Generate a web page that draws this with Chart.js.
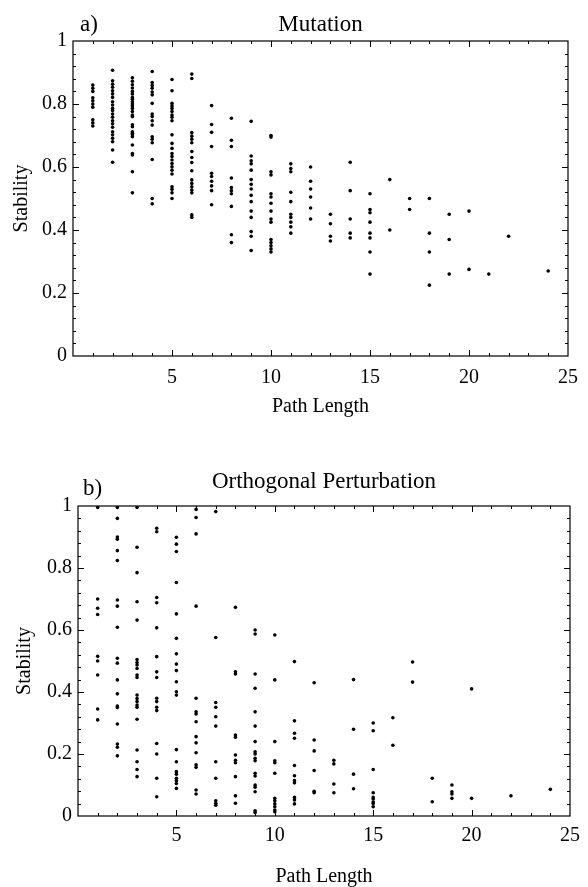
<!DOCTYPE html>
<html>
<head>
<meta charset="utf-8">
<script src="https://cdn.jsdelivr.net/npm/chart.js@4.4.1/dist/chart.umd.min.js"></script>
<style>
  html, body { margin: 0; padding: 0; background: #fff; }
  #wrap { position: relative; width: 588px; height: 887px; }
  canvas { position: absolute; left: 0; }
  #chart-a { top: 0; }
  #chart-b { top: 440px; }
</style>
</head>
<body>
<div id="wrap">
  <canvas id="chart-a" width="588" height="440"></canvas>
  <canvas id="chart-b" width="588" height="447"></canvas>
</div>
<script>
// a) Mutation: stability values per path length
const pathLengthsA = [1, 2, 3, 4, 5, 6, 7, 8, 9, 10, 11, 12, 13, 14, 15, 16, 17, 18, 19, 20, 21, 22, 24];
const stabilityA = [
  [0.86, 0.85, 0.84, 0.82, 0.81, 0.80, 0.79, 0.75, 0.74, 0.73],
  [0.907, 0.874, 0.863, 0.853, 0.842, 0.832, 0.821, 0.807, 0.797, 0.786, 0.779, 0.768, 0.758, 0.747, 0.737, 0.726, 0.712, 0.702, 0.691, 0.680, 0.654, 0.615],
  [0.883, 0.872, 0.861, 0.851, 0.840, 0.832, 0.821, 0.815, 0.807, 0.80, 0.794, 0.786, 0.776, 0.765, 0.760, 0.734, 0.728, 0.712, 0.707, 0.702, 0.696, 0.670, 0.643, 0.638, 0.585, 0.518],
  [0.903, 0.868, 0.859, 0.850, 0.838, 0.829, 0.802, 0.768, 0.760, 0.747, 0.733, 0.696, 0.688, 0.677, 0.624, 0.50, 0.483],
  [0.878, 0.842, 0.802, 0.794, 0.786, 0.776, 0.765, 0.758, 0.747, 0.702, 0.675, 0.659, 0.643, 0.633, 0.622, 0.611, 0.601, 0.590, 0.578, 0.537, 0.529, 0.518, 0.50],
  [0.895, 0.881, 0.709, 0.698, 0.688, 0.677, 0.649, 0.630, 0.614, 0.588, 0.559, 0.548, 0.537, 0.527, 0.518, 0.448, 0.44],
  [0.795, 0.735, 0.71, 0.665, 0.58, 0.57, 0.555, 0.54, 0.525, 0.48],
  [0.755, 0.685, 0.665, 0.565, 0.535, 0.525, 0.515, 0.475, 0.385, 0.36],
  [0.745, 0.635, 0.62, 0.61, 0.59, 0.56, 0.545, 0.53, 0.51, 0.49, 0.46, 0.44, 0.395, 0.38, 0.335],
  [0.70, 0.695, 0.585, 0.575, 0.515, 0.505, 0.485, 0.46, 0.435, 0.425, 0.37, 0.36, 0.35, 0.34, 0.33],
  [0.61, 0.595, 0.585, 0.52, 0.49, 0.45, 0.44, 0.425, 0.41, 0.39],
  [0.60, 0.555, 0.53, 0.505, 0.47, 0.435],
  [0.45, 0.42, 0.38, 0.365],
  [0.615, 0.525, 0.435, 0.39, 0.375],
  [0.515, 0.465, 0.455, 0.425, 0.39, 0.375, 0.33, 0.26],
  [0.56, 0.40],
  [0.50, 0.465],
  [0.50, 0.39, 0.33, 0.225],
  [0.45, 0.37, 0.26],
  [0.46, 0.275],
  [0.26],
  [0.38],
  [0.27]
];

// b) Orthogonal Perturbation
const pathLengthsB = [1, 2, 3, 4, 5, 6, 7, 8, 9, 10, 11, 12, 13, 14, 15, 16, 17, 18, 19, 20, 22, 24];
const stabilityB = [
  [0.995, 0.70, 0.67, 0.65, 0.515, 0.50, 0.455, 0.345, 0.31],
  [0.995, 0.96, 0.90, 0.893, 0.856, 0.824, 0.697, 0.677, 0.609, 0.509, 0.493, 0.439, 0.394, 0.355, 0.35, 0.297, 0.232, 0.222, 0.194],
  [0.995, 0.867, 0.785, 0.691, 0.632, 0.505, 0.495, 0.487, 0.476, 0.455, 0.447, 0.390, 0.379, 0.369, 0.358, 0.351, 0.312, 0.213, 0.175, 0.15, 0.127],
  [0.928, 0.917, 0.705, 0.688, 0.607, 0.514, 0.465, 0.447, 0.380, 0.369, 0.351, 0.340, 0.234, 0.2, 0.122, 0.062],
  [0.899, 0.877, 0.853, 0.753, 0.652, 0.573, 0.523, 0.490, 0.469, 0.433, 0.401, 0.390, 0.214, 0.175, 0.143, 0.135, 0.122, 0.114, 0.105, 0.089],
  [0.989, 0.963, 0.910, 0.677, 0.380, 0.336, 0.329, 0.304, 0.256, 0.236, 0.204, 0.165, 0.157, 0.084, 0.071],
  [0.982, 0.576, 0.366, 0.351, 0.320, 0.290, 0.175, 0.122, 0.049, 0.041, 0.035],
  [0.673, 0.465, 0.458, 0.261, 0.254, 0.197, 0.18, 0.172, 0.127, 0.065, 0.041],
  [0.60, 0.587, 0.458, 0.412, 0.336, 0.290, 0.240, 0.207, 0.2, 0.186, 0.178, 0.138, 0.129, 0.10, 0.093, 0.078, 0.017, 0.011],
  [0.584, 0.439, 0.240, 0.178, 0.172, 0.138, 0.057, 0.049, 0.039, 0.030, 0.019, 0.014],
  [0.498, 0.307, 0.267, 0.251, 0.163, 0.130, 0.114, 0.107, 0.060, 0.052, 0.039],
  [0.43, 0.245, 0.21, 0.147, 0.08, 0.075],
  [0.18, 0.168, 0.103, 0.075],
  [0.44, 0.28, 0.135, 0.088],
  [0.30, 0.275, 0.15, 0.075, 0.06, 0.055, 0.045, 0.04, 0.03],
  [0.317, 0.228],
  [0.497, 0.432],
  [0.122, 0.046],
  [0.10, 0.078, 0.071, 0.057],
  [0.41, 0.057],
  [0.065],
  [0.086]
];

const xTicks = [5, 10, 15, 20, 25];
const yTicks = [0, 0.2, 0.4, 0.6, 0.8, 1];

const serif = "'Liberation Serif', 'DejaVu Serif', serif";

function toPoints(xs, cols) {
  return xs.flatMap((x, i) => cols[i].map(y => ({ x: x, y: y })));
}

// frame with inward ticks on all four sides, plus the texts
const framePlugin = {
  id: 'frame',
  afterDraw(chart, args, opts) {
    const ctx = chart.ctx;
    const a = chart.chartArea;
    const sx = chart.scales.x, sy = chart.scales.y;
    ctx.save();
    ctx.strokeStyle = '#000';
    ctx.lineWidth = 1.2;
    ctx.strokeRect(a.left, a.top, a.right - a.left, a.bottom - a.top);
    ctx.lineWidth = 1;
    ctx.beginPath();
    for (let v = 1; v < 25; v++) {
      const px = Math.round(sx.getPixelForValue(v)) + 0.5;
      const len = v % 5 === 0 ? 6 : 3;
      ctx.moveTo(px, a.bottom); ctx.lineTo(px, a.bottom - len);
      ctx.moveTo(px, a.top); ctx.lineTo(px, a.top + len);
    }
    for (let i = 1; i < 25; i++) {
      const py = Math.round(sy.getPixelForValue(i * 0.04)) + 0.5;
      const len = i % 5 === 0 ? 6 : 3;
      ctx.moveTo(a.left, py); ctx.lineTo(a.left + len, py);
      ctx.moveTo(a.right, py); ctx.lineTo(a.right - len, py);
    }
    ctx.stroke();

    ctx.fillStyle = '#000';
    ctx.font = '23px ' + serif;
    ctx.textBaseline = 'alphabetic';
    ctx.textAlign = 'left';
    ctx.fillText(opts.tag, a.left + opts.tagX, a.top - opts.tagGap);
    ctx.textAlign = 'center';
    ctx.fillText(opts.title, (a.left + a.right) / 2, a.top - opts.titleGap);

    ctx.font = '20px ' + serif;
    ctx.textBaseline = 'middle';
    ctx.fillText('Path Length', (a.left + a.right) / 2, a.bottom + opts.xTitleGap);
    ctx.translate(opts.yTitleX, (a.top + a.bottom) / 2);
    ctx.rotate(-Math.PI / 2);
    ctx.fillText('Stability', 0, 0);
    ctx.restore();
  }
};

function makeChart(id, xs, cols, dims, texts) {
  const ctx = document.getElementById(id).getContext('2d');
  return new Chart(ctx, {
    type: 'scatter',
    data: {
      datasets: [{
        data: toPoints(xs, cols),
        backgroundColor: '#000',
        borderColor: '#000',
        borderWidth: 0,
        pointRadius: 1.8,
        pointHoverRadius: 1.8
      }]
    },
    options: {
      responsive: false,
      animation: false,
      events: [],
      layout: { padding: { left: 0, right: dims.right, top: dims.top, bottom: 0 } },
      scales: {
        x: {
          type: 'linear',
          min: 0,
          max: 25,
          afterFit(s) { s.height = dims.xHeight; },
          afterBuildTicks(s) { s.ticks = xTicks.map(v => ({ value: v })); },
          grid: { display: false, drawTicks: false },
          border: { display: false },
          ticks: {
            color: '#000',
            font: { family: serif, size: 20 },
            padding: dims.xPad,
            maxRotation: 0,
            autoSkip: false,
            callback: v => String(v)
          }
        },
        y: {
          type: 'linear',
          min: 0,
          max: 1,
          afterFit(s) { s.width = dims.yWidth; },
          afterBuildTicks(s) { s.ticks = yTicks.map(v => ({ value: v })); },
          grid: { display: false, drawTicks: false },
          border: { display: false },
          ticks: {
            color: '#000',
            font: { family: serif, size: 20 },
            padding: 6,
            autoSkip: false,
            callback: v => String(v)
          }
        }
      },
      plugins: {
        legend: { display: false },
        tooltip: { enabled: false },
        frame: texts
      }
    },
    plugins: [framePlugin]
  });
}

makeChart('chart-a', pathLengthsA, stabilityA,
  { right: 6, top: 41, xHeight: 84, yWidth: 73, xPad: 10 },
  { tag: 'a)', title: 'Mutation', tagX: 7, tagGap: 10, titleGap: 10, xTitleGap: 51, yTitleX: 22 });

makeChart('chart-b', pathLengthsB, stabilityB,
  { right: 14, top: 66, xHeight: 71, yWidth: 78, xPad: 8 },
  { tag: 'b)', title: 'Orthogonal Perturbation', tagX: 5, tagGap: 11, titleGap: 18, xTitleGap: 61, yTitleX: 25 });
</script>
</body>
</html>
